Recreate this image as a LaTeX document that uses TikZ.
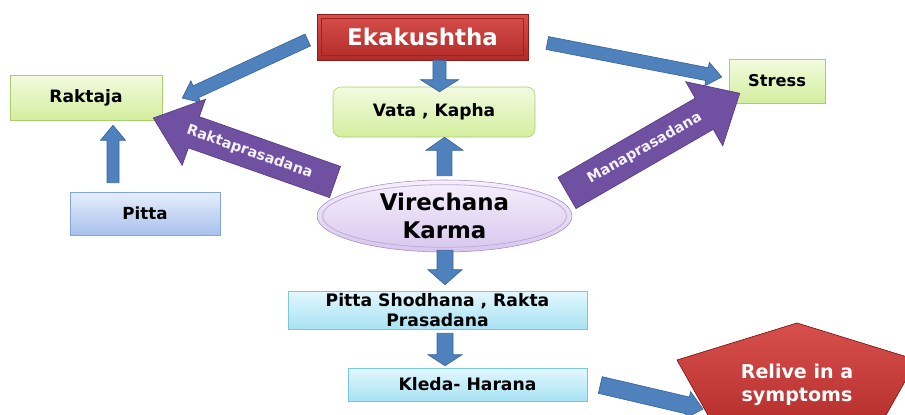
\documentclass[tikz,border=0pt]{standalone}
\usepackage{fontspec}
\setmainfont{DejaVu Sans}
\usetikzlibrary{calc,shapes.geometric}

\definecolor{redtop}{HTML}{D8504C}
\definecolor{redbot}{HTML}{B02A28}
\definecolor{redline}{HTML}{8C1C1C}
\definecolor{redinner}{HTML}{9E2422}
\definecolor{greentop}{HTML}{F3FBE0}
\definecolor{greenbot}{HTML}{D3EE9E}
\definecolor{greenline}{HTML}{A8CF6B}
\definecolor{bluetop}{HTML}{E6EEFB}
\definecolor{bluebot}{HTML}{A8C1EC}
\definecolor{blueline}{HTML}{86A6DA}
\definecolor{cyantop}{HTML}{E3F7FD}
\definecolor{cyanbot}{HTML}{A7E2F3}
\definecolor{cyanline}{HTML}{79C8E2}
\definecolor{liltop}{HTML}{F6F0FC}
\definecolor{lilbot}{HTML}{D8C6EE}
\definecolor{lilline}{HTML}{A487C8}
\definecolor{arrowblue}{HTML}{4F81BD}
\definecolor{arrowline}{HTML}{3B679C}
\definecolor{arrowpurple}{HTML}{7050A0}
\definecolor{purpleline}{HTML}{5A3C86}

% block arrow: [style]{tail}{tip}{shaft half width}{head half width}{head length}
\newcommand{\blockarrow}[6][bluearrow]{%
  \coordinate (hb) at ($(#3)!#6!(#2)$);
  \filldraw[#1] ($(#2)!#4!90:(#3)$) -- ($(hb)!#4!90:(#3)$) -- ($(hb)!#5!90:(#3)$)
    -- (#3) -- ($(hb)!#5!-90:(#3)$) -- ($(hb)!#4!-90:(#3)$) -- ($(#2)!#4!-90:(#3)$) -- cycle;
}

\tikzset{
  bluearrow/.style={fill=arrowblue, draw=arrowline, line width=0.5pt},
  purplearrow/.style={fill=arrowpurple, draw=purpleline, line width=0.5pt},
  greenbox/.style={draw=greenline, top color=greentop, bottom color=greenbot, text=black,
    font=\fontsize{12.8}{15}\selectfont\bfseries},
  cyanbox/.style={draw=cyanline, top color=cyantop, bottom color=cyanbot, text=black,
    font=\fontsize{12.9}{14.6}\selectfont\bfseries, align=center},
  arrowlabel/.style={text=white!92!arrowpurple, font=\fontsize{10.8}{13}\selectfont\bfseries}
}

\begin{document}
\begin{tikzpicture}[x=0.75pt, y=-0.75pt, every node/.style={inner sep=0pt}]
\useasboundingbox (0,0) rectangle (905,414);
\clip (0,0) rectangle (905,414);

% Top box
\node [draw=redline, top color=redtop, bottom color=redbot, text=white,
  minimum width=158.25pt, minimum height=34.5pt,
  font=\fontsize{17.2}{20}\selectfont\bfseries] (ekak) at (422.5,37) {Ekakushtha};
\draw [redinner, line width=0.8pt] ($(ekak.north west)+(5,5)$) rectangle ($(ekak.south east)+(-5,-5)$);

% Green boxes
\node [greenbox, minimum width=114pt, minimum height=33.75pt] (raktaja) at (86,97.5) {Raktaja};
\node [greenbox, rounded corners=6pt, minimum width=151.5pt, minimum height=37.5pt] (vata) at (434,112) {Vata , Kapha};
\node [greenbox, font=\fontsize{12.2}{15}\selectfont\bfseries, minimum width=72pt, minimum height=33pt] (stress) at (777,81) {Stress};

% Pitta
\node [draw=blueline, top color=bluetop, bottom color=bluebot, text=black,
  minimum width=112.5pt, minimum height=32.25pt,
  font=\fontsize{12.5}{15}\selectfont\bfseries] (pitta) at (145,213.5) {Pitta};

% Centre ellipse
\node [ellipse, draw=lilline, top color=liltop, bottom color=lilbot, text=black,
  minimum width=191.25pt, minimum height=54pt, align=center,
  font=\fontsize{17.2}{20.5}\selectfont\bfseries] (vir) at (444.5,216) {Virechana\\Karma};
\draw [lilline!70, line width=0.6pt] (vir.center) ellipse [x radius=91.5pt, y radius=23.5pt];

% Cyan boxes
\node [cyanbox, minimum width=224.25pt, minimum height=28.5pt] (pshod) at (437.5,310) {Pitta Shodhana , Rakta\\Prasadana};
\node [cyanbox, minimum width=179.25pt, minimum height=24.75pt] (kleda) at (467.5,384.5) {Kleda- Harana};

% Pentagon
\filldraw [draw=redline, line width=0.5pt, top color=redtop, bottom color=redbot] (797,323) -- (917,360) -- (872,440) -- (722,440) -- (677,360) -- cycle;
\node [text=white, align=center, font=\fontsize{14.3}{17.5}\selectfont\bfseries] (relive) at (797,385) {Relive in a\\symptoms};

% Arrow ends
\coordinate (a1t) at ($(ekak.west)+(-9,3)$);
\coordinate (a1h) at ($(raktaja.east)+(20,0.5)$);
\coordinate (a2t) at ($(ekak.south)+(17,0)$);
\coordinate (a2h) at ($(vata.north)+(5.5,5)$);
\coordinate (a3t) at ($(ekak.east)+(19,6)$);
\coordinate (a3h) at ($(stress.west)+(-7,-4)$);
\coordinate (a4t) at ($(pitta.north)+(-32,-9)$);
\coordinate (a4h) at ($(raktaja.south)+(27,5)$);
\coordinate (a5t) at ($(vir.north)+(0,-4)$);
\coordinate (a5h) at (vir.north |- vata.south);
\coordinate (a6t) at ($(vir.south)+(0.5,-2)$);
\coordinate (a6h) at ($(pshod.north)+(7.5,-6)$);
\coordinate (a7t) at ($(pshod.south)+(7.5,4)$);
\coordinate (a7h) at ($(kleda.north)+(-22.5,-2)$);
\coordinate (a8t) at ($(kleda.east)+(13,0.5)$);
\coordinate (a8h) at ($(relive)+(-94,24)$);
\coordinate (p1t) at ($(vir.center)+(-109.5,-34)$);
\coordinate (p1h) at ($(raktaja.east)+(-9,20.5)$);
\coordinate (p2t) at ($(vir.center)+(122.5,-23)$);
\coordinate (p2h) at ($(stress.south west)+(11,-10)$);

% Blue arrows
\blockarrow{a1t}{a1h}{4.9pt}{9pt}{11.25pt}
\blockarrow{a2t}{a2h}{4.9pt}{14.25pt}{9pt}
\blockarrow{a3t}{a3h}{4.9pt}{9pt}{11.25pt}
\blockarrow{a4t}{a4h}{4.5pt}{9.4pt}{11.25pt}
\blockarrow{a5t}{a5h}{5.6pt}{13.9pt}{9.75pt}
\blockarrow{a6t}{a6h}{6pt}{12.75pt}{11.25pt}
\blockarrow{a7t}{a7h}{6pt}{12.75pt}{8.25pt}
\blockarrow{a8t}{a8h}{6.4pt}{10.5pt}{12pt}

% Purple arrows
\blockarrow[purplearrow]{p1t}{p1h}{12.4pt}{26.25pt}{32.25pt}
\blockarrow[purplearrow]{p2t}{p2h}{13.5pt}{27.75pt}{30.75pt}
\node [arrowlabel, rotate=-19.4] (lrakta) at ($(p1t)!0.47!(p1h)$) {Raktaprasadana};
\node [arrowlabel, rotate=30] (lmana) at ($(p2t)!0.45!(p2h)$) {Manaprasadana};
\end{tikzpicture}
\end{document}
